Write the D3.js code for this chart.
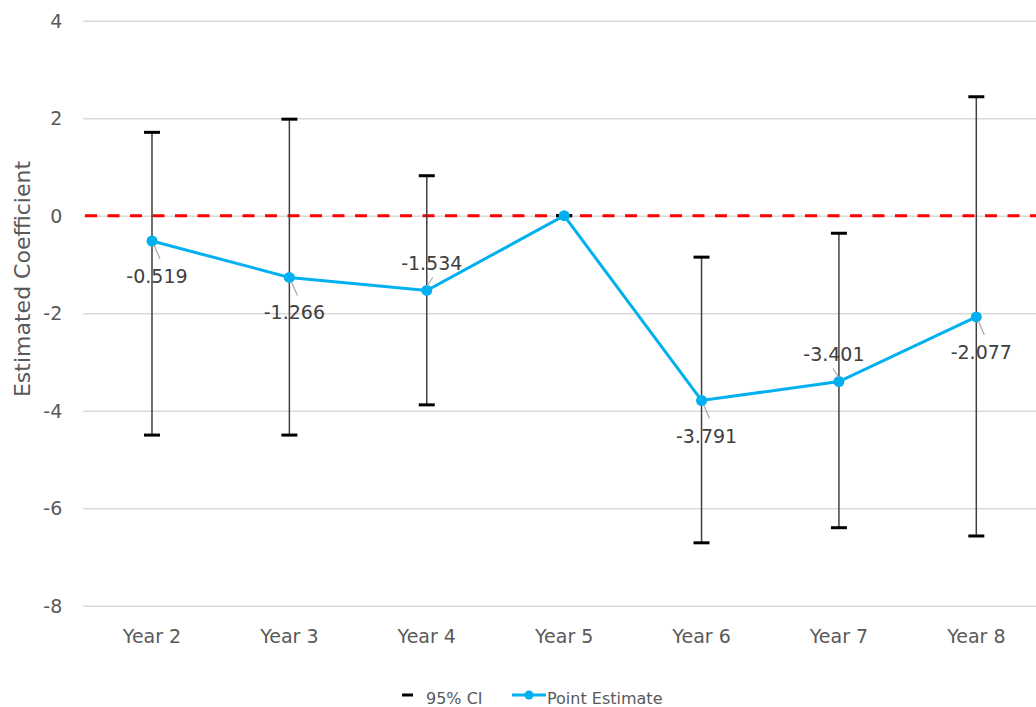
<!DOCTYPE html>
<html>
<head>
<meta charset="utf-8">
<script src="https://cdn.jsdelivr.net/npm/d3@7"></script>
<style>
  html, body { margin: 0; padding: 0; background: #ffffff; }
  svg { display: block; font-family: "DejaVu Sans", Verdana, sans-serif; }
</style>
</head>
<body>
<svg id="chart" width="1036" height="707"></svg>
<script>
// Event-study coefficients by year with 95% confidence intervals
const years = ["Year 2", "Year 3", "Year 4", "Year 5", "Year 6", "Year 7", "Year 8"];
const estimates = [-0.519, -1.266, -1.534, 0, -3.791, -3.401, -2.077];
const ciLower = [-4.50, -4.50, -3.88, 0, -6.71, -6.40, -6.57];
const ciUpper = [1.71, 1.98, 0.82, 0, -0.85, -0.36, 2.44];
const yTicks = [-8, -6, -4, -2, 0, 2, 4];

const svg = d3.select("#chart");
const fontFamily = "'DejaVu Sans', Verdana, sans-serif";
const textColor = "#595959";
const lineColor = "#00b0f0";
const fmtTick = d => String(d);
const fmtValue = v => v.toFixed(3);

const x = d3.scaleBand().domain(years).range([83.3, 1045]).padding(0);
const y = d3.scaleLinear().domain([-8, 4]).range([605.7, 20.7]);
const cx = d => x(d) + x.bandwidth() / 2;

// Horizontal gridlines with tick labels on the left
const yAxis = d3.axisLeft(y).tickValues(yTicks).tickSize(-(1045 - 83.3)).tickPadding(21).tickFormat(fmtTick);
const gy = svg.append("g").attr("transform", "translate(83.3,0)").call(yAxis)
  .attr("font-family", fontFamily).attr("font-size", 19);
gy.select(".domain").remove();
gy.selectAll(".tick line").attr("stroke", "#d9d9d9").attr("stroke-width", 1.5);
gy.selectAll(".tick text").attr("fill", textColor).attr("dy", "0.35em");

// Category labels along the bottom
const xAxis = d3.axisBottom(x).tickSize(0).tickPadding(0);
const gx = svg.append("g").attr("transform", "translate(0,643)").call(xAxis)
  .attr("font-family", fontFamily).attr("font-size", 19);
gx.select(".domain").remove();
gx.selectAll(".tick text").attr("fill", textColor).attr("dy", 0);

// Reference line at zero
svg.append("line")
  .attr("x1", 85).attr("x2", 1036)
  .attr("y1", y(0)).attr("y2", y(0))
  .attr("stroke", "#ff0000").attr("stroke-width", 3)
  .attr("stroke-dasharray", "12,10.5");

// Confidence-interval whiskers
const ci = svg.append("g");
years.forEach((yr, i) => {
  const px = cx(yr);
  ci.append("line")
    .attr("x1", px).attr("x2", px)
    .attr("y1", y(ciUpper[i])).attr("y2", y(ciLower[i]))
    .attr("stroke", "#404040").attr("stroke-width", 1.5);
  [ciUpper[i], ciLower[i]].forEach(v => {
    ci.append("line")
      .attr("x1", px - 8).attr("x2", px + 8)
      .attr("y1", y(v)).attr("y2", y(v))
      .attr("stroke", "#000000").attr("stroke-width", 3);
  });
});

// Point-estimate line and markers
const line = d3.line().x((d, i) => cx(years[i])).y(d => y(d));
svg.append("path")
  .datum(estimates)
  .attr("d", line)
  .attr("fill", "none")
  .attr("stroke", lineColor)
  .attr("stroke-width", 3);

svg.append("g").selectAll("circle")
  .data(estimates)
  .join("circle")
  .attr("cx", (d, i) => cx(years[i]))
  .attr("cy", d => y(d))
  .attr("r", 5.5)
  .attr("fill", lineColor);

// Value labels with short leader lines
const labelSide = ["below", "below", "above", null, "below", "above", "below"];
const labels = svg.append("g");
estimates.forEach((v, i) => {
  const side = labelSide[i];
  if (!side) return;
  const px = cx(years[i]), py = y(v);
  if (side === "below") {
    labels.append("line")
      .attr("x1", px + 2).attr("y1", py + 4)
      .attr("x2", px + 8).attr("y2", py + 18)
      .attr("stroke", "#a6a6a6").attr("stroke-width", 1.2);
    labels.append("text")
      .attr("x", px + 5).attr("y", py + 42)
      .attr("text-anchor", "middle")
      .attr("font-size", 19).attr("fill", "#404040")
      .text(fmtValue(v));
  } else {
    const dir = i === 5 ? -1 : 1;
    labels.append("line")
      .attr("x1", px).attr("y1", py - 4)
      .attr("x2", px + 6 * dir).attr("y2", py - 13)
      .attr("stroke", "#a6a6a6").attr("stroke-width", 1.2);
    labels.append("text")
      .attr("x", px + 5 * dir).attr("y", py - 20)
      .attr("text-anchor", "middle")
      .attr("font-size", 19).attr("fill", "#404040")
      .text(fmtValue(v));
  }
});

// Y-axis title
svg.append("text")
  .attr("transform", "translate(30,279) rotate(-90)")
  .attr("text-anchor", "middle")
  .attr("font-size", 22)
  .attr("fill", textColor)
  .text("Estimated Coefficient");

// Legend
const legend = svg.append("g").attr("transform", "translate(0,698)");
legend.append("line")
  .attr("x1", 402).attr("x2", 413).attr("y1", -3).attr("y2", -3)
  .attr("stroke", "#000000").attr("stroke-width", 3);
legend.append("text")
  .attr("x", 426).attr("y", 0).attr("dy", "0.35em")
  .attr("font-size", 16).attr("fill", textColor)
  .text("95% CI");
legend.append("line")
  .attr("x1", 512).attr("x2", 546).attr("y1", -3).attr("y2", -3)
  .attr("stroke", lineColor).attr("stroke-width", 3);
legend.append("circle")
  .attr("cx", 529).attr("cy", -3).attr("r", 4.5)
  .attr("fill", lineColor);
legend.append("text")
  .attr("x", 547).attr("y", 0).attr("dy", "0.35em")
  .attr("font-size", 16).attr("fill", textColor)
  .text("Point Estimate");
</script>
</body>
</html>
